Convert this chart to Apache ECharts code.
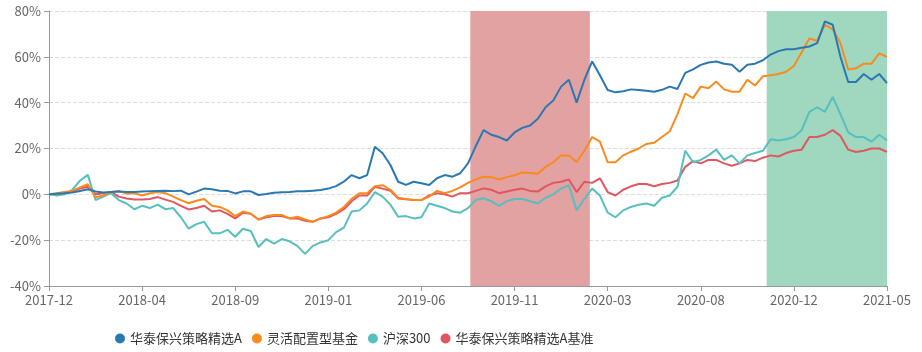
<!DOCTYPE html>
<html>
<head>
<meta charset="utf-8">
<script src="https://cdn.jsdelivr.net/npm/echarts@6/dist/echarts.min.js"></script>
<style>
  html, body { margin: 0; padding: 0; background: #fff; }
  #main { width: 922px; height: 352px; }
</style>
</head>
<body>
<div id="main"></div>
<script>
// 横轴刻度标签，每段12个点
var tickLabels = ['2017-12', '2018-04', '2018-09', '2019-01', '2019-06', '2019-11', '2020-03', '2020-08', '2020-12', '2021-05'];
var step = 12;

var seriesNames = ['华泰保兴策略精选A', '灵活配置型基金', '沪深300', '华泰保兴策略精选A基准'];

// 累计收益率 (%)
var fundA = [
  0, 0.3, 0.5, 0.8, 1.5, 2.2, 1.2, 0.8, 1.0, 1.2, 1.0, 1.0,
  1.2, 1.4, 1.5, 1.6, 1.4, 1.6, 0, 1.2, 2.5, 2.2, 1.6, 1.5,
  0.4, 1.3, 1.3, -0.3, 0.1, 0.7, 0.9, 1.0, 1.3, 1.3, 1.6, 1.9,
  2.5, 3.6, 5.5, 8.4, 7.0, 8.4, 20.8, 17.9, 12.8, 5.5, 4.1, 5.5,
  4.8, 4.1, 7.0, 8.4, 7.7, 9.2, 13.5, 21, 28, 26, 25, 23.5,
  27, 29, 30, 33, 38, 41, 47, 50, 40, 50, 58, 52,
  45.5, 44.5, 45, 45.8, 45.5, 45.2, 44.8, 45.6, 47, 46, 53, 54.5,
  56.5, 57.5, 58, 57, 56.5, 53.5, 56.5, 57, 58.5, 61, 62.5, 63.3,
  63.3, 64, 64.5, 66, 75.5, 74, 60, 49, 49, 52.5, 50, 52.5,
  48.5
];
var flexFund = [
  0, 0.5, 1.0, 1.5, 3.0, 4.4, -1.3, -0.5, 1.0, 1.5, 0.3, 0.5,
  -0.5, 0.5, 1.0, 0.5, -1.0, -2.5, -3.9, -2.8, -2.0, -5.0, -5.5, -7,
  -9.5, -7.5, -8.5, -11, -9.5, -9, -9, -10.5, -9.8, -11, -12, -10.5,
  -9.5, -8, -5.5, -2, 0.5, 0.5, 3.5, 4.0, 2.0, -1.5, -2, -2.5,
  -2.5, -1, 1.5, 0.5, 1.5, 3.0, 5.0, 6.5, 7.7, 7.5, 6.5, 7.5,
  8.3, 9.5, 9.3, 9, 12, 14, 17, 17, 14, 19, 25, 23,
  14, 14, 17, 18.6, 20, 22, 22.5, 25, 27.5, 35, 44, 42,
  47, 46.3, 49.2, 45.8, 44.8, 44.8, 50, 47.5, 51.5, 52, 52.5, 53.5,
  56, 62, 68, 67, 74, 72, 66, 54.5, 55, 57, 57, 61.5,
  60
];
var hs300 = [
  0, -0.5, 0, 2.0, 6.0, 8.5, -2.5, -1.0, 0.5, -2.5, -4, -6.5,
  -5.0, -6.0, -4.5, -6.5, -6.0, -10, -15, -13, -12, -17, -17, -15.5,
  -18.5, -15, -16, -23, -19.5, -21.5, -19.5, -20.5, -22.5, -26, -22.5, -21,
  -20, -16.5, -14.5, -7.5, -7, -4, 1, -1, -4.5, -9.8, -9.5, -10.5,
  -10, -4, -5, -6, -7.5, -8, -6, -2.5, -1.7, -3, -5, -3,
  -2, -2, -3, -4, -1.5, 0, 2.5, 4, -7, -2, 2.5, -0.5,
  -8, -10, -7, -5.5, -4.5, -4, -5, -1.5, -0.5, 3.3, 19, 14,
  15, 17, 19.5, 15, 17, 13.5, 17, 18, 19, 24, 23.5, 24,
  25, 28, 36, 38, 36, 42.5, 35, 27, 25, 25, 23, 26,
  23.5
];
var benchA = [
  0, 0.3, 0.8, 1.2, 2.5, 3.3, 0, 0.5, 1.0, -1.0, -1.8, -2.3,
  -2.3, -2.0, -1.2, -2.3, -3.3, -5.0, -6.6, -6.0, -5.0, -7.5, -7.0, -8.5,
  -10.5, -8.0, -8.5, -11, -10, -9.5, -9.5, -10.5, -10.5, -11.5, -12, -10.5,
  -10, -8.5, -6.5, -3, -0.5, -0.5, 3.3, 2.5, 1.5, -1.8, -2.2, -2.5,
  -2.5, -0.5, 0.5, 0, -1.0, 0.5, 0.5, 1.5, 2.6, 2.0, 0.5, 1.2,
  2.0, 2.5, 1.5, 1.2, 3.5, 5.0, 5.5, 6.5, 1.0, 5.5, 5.0, 7.0,
  1.0, -0.5, 2, 3.5, 4.5, 4.5, 3.5, 4.5, 5, 6, 12, 14.5,
  13.5, 15, 15, 13.5, 12.5, 13.5, 15, 14.5, 16, 17, 16.5, 18,
  19, 19.5, 25, 25, 26, 28, 25.5, 19.5, 18.5, 19, 20, 20,
  18.5
];

// 阴影区间 (以数据点序号计)
var redPeriod = [54.3, 69.7];
var greenPeriod = [92.5, 108];

var colors = ['#2a78b2', '#fa8a1e', '#57bfbd', '#e0575f'];

function toPoints(arr) {
  return arr.map(function (v, i) { return [i, v]; });
}

var chart = echarts.init(document.getElementById('main'));

var allData = [fundA, flexFund, hs300, benchA];
var zs = [6, 5, 4, 3];
var series = allData.map(function (d, k) {
  return {
    name: seriesNames[k],
    type: 'line',
    data: toPoints(d),
    symbol: 'none',
    z: zs[k],
    lineStyle: { width: 2, color: colors[k] },
    itemStyle: { color: colors[k] }
  };
});
// 背景阴影
series.push({
  name: 'shade',
  type: 'line',
  data: [],
  z: 1,
  markArea: {
    silent: true,
    data: [
      [{ xAxis: redPeriod[0], itemStyle: { color: '#e2a2a2', opacity: 1 } }, { xAxis: redPeriod[1] }],
      [{ xAxis: greenPeriod[0], itemStyle: { color: '#9fd8bf', opacity: 1 } }, { xAxis: greenPeriod[1] }]
    ]
  }
});

chart.setOption({
  animation: false,
  textStyle: { fontFamily: '"Noto Sans CJK SC", "Noto Sans", sans-serif' },
  grid: { left: 49, right: 35, top: 11, bottom: 66 },
  legend: {
    data: seriesNames,
    left: 110,
    top: 327,
    icon: 'circle',
    itemWidth: 10,
    itemHeight: 10,
    itemGap: 10,
    textStyle: { fontSize: 13, color: '#333' }
  },
  xAxis: {
    type: 'value',
    min: 0,
    max: step * (tickLabels.length - 1),
    interval: step,
    splitLine: { show: false },
    axisLine: { onZero: false, lineStyle: { color: '#999' } },
    axisTick: { lineStyle: { color: '#999' } },
    axisLabel: {
      color: '#666',
      fontSize: 13,
      formatter: function (v) { return tickLabels[Math.round(v / step)]; }
    }
  },
  yAxis: {
    type: 'value',
    min: -40,
    max: 80,
    interval: 20,
    axisLine: { show: true, lineStyle: { color: '#999' } },
    axisTick: { show: true, lineStyle: { color: '#999' } },
    axisLabel: { color: '#666', fontSize: 13, formatter: '{value}%' },
    splitLine: { lineStyle: { color: '#ddd', type: 'dashed' } }
  },
  series: series
});
</script>
</body>
</html>
